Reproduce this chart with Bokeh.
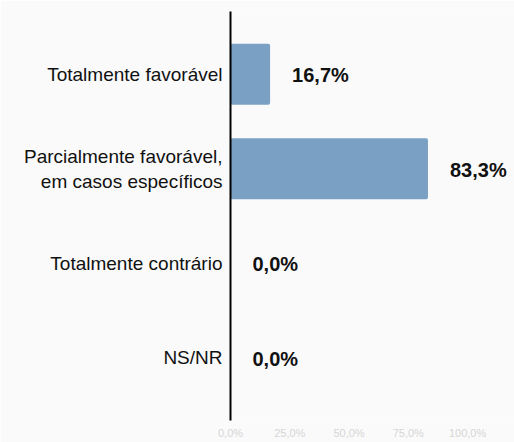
from bokeh.plotting import figure
from bokeh.models import FactorRange, Range1d, FixedTicker, ColumnDataSource
from bokeh.embed import file_html
from bokeh.resources import INLINE
from bokeh.core.properties import value

categories = ["Totalmente favorável",
              "Parcialmente favorável,\nem casos específicos",
              "Totalmente contrário",
              "NS/NR"]
values = [16.7, 83.3, 0.0, 0.0]
value_labels = ["16,7%", "83,3%", "0,0%", "0,0%"]
x_ticks = [0, 25, 50, 75, 100]
x_tick_labels = ["0,0%", "25,0%", "50,0%", "75,0%", "100,0%"]

factors = list(reversed(categories))
src = ColumnDataSource(dict(cat=categories, val=values, lab=value_labels))

p = figure(width=514, height=442, output_backend="svg", toolbar_location=None,
           y_range=FactorRange(factors=factors, range_padding=0.082),
           x_range=Range1d(0, 119.8),
           min_border_left=230, min_border_right=0, min_border_top=11, min_border_bottom=22)
p.background_fill_color = "#fafafa"
p.border_fill_color = "#fafafa"
p.outline_line_color = None
p.grid.visible = False

p.hbar(y="cat", right="val", left=0, height=0.645, source=src,
       fill_color="#7aa1c4", line_color=None, border_radius=2)

p.text(x="val", y="cat", text="lab", source=src, x_offset=22, y_offset=1,
       text_align="left", text_baseline="middle",
       text_font=value("Liberation Sans"), text_font_style="bold",
       text_font_size="20px", text_color="#111111")

ya = p.yaxis[0]
ya.axis_line_color = "black"
ya.axis_line_width = 2
ya.major_tick_line_color = None
ya.minor_tick_line_color = None
ya.major_tick_out = 0
ya.major_tick_in = 0
ya.major_label_text_font = "Liberation Sans"
ya.major_label_text_font_size = "19px"
ya.major_label_text_color = "#111111"
ya.major_label_standoff = 8

xa = p.xaxis[0]
xa.ticker = FixedTicker(ticks=x_ticks)
xa.major_label_overrides = {t: l for t, l in zip(x_ticks, x_tick_labels)}
xa.axis_line_color = None
xa.major_tick_line_color = None
xa.minor_tick_line_color = None
xa.major_tick_out = 0
xa.major_tick_in = 0
xa.major_label_text_font = "Liberation Sans"
xa.major_label_text_font_size = "11px"
xa.major_label_text_color = "#d6d6d6"
xa.major_label_standoff = 6

open("out.html", "w").write(file_html(p, INLINE))
